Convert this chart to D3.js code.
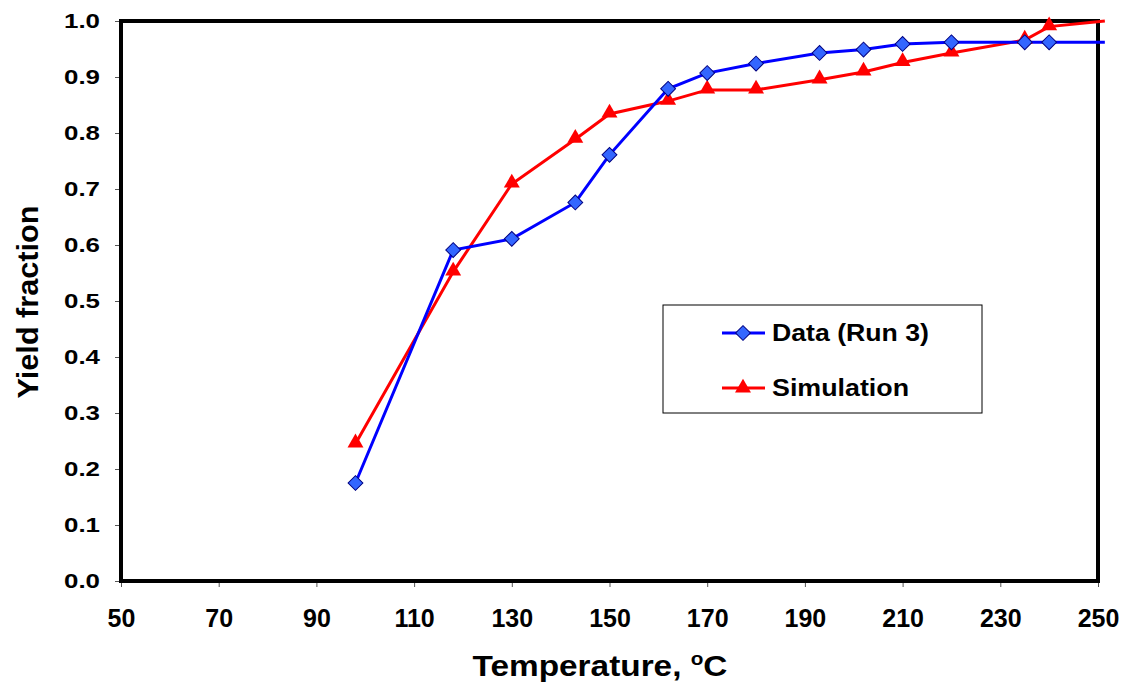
<!DOCTYPE html>
<html>
<head>
<meta charset="utf-8">
<script src="https://cdn.jsdelivr.net/npm/d3@7"></script>
<style>
  body { margin: 0; background: #fff; }
  text { font-family: Arial, "Liberation Sans", sans-serif; font-weight: bold; }
</style>
</head>
<body>
<div id="chart"></div>
<script>
// data
var temps      = [98, 118, 130, 143, 150, 162, 170, 180, 193, 202, 210, 220, 235, 240, 251.4];
var dataRun3   = [0.175, 0.591, 0.611, 0.676, 0.761, 0.879, 0.907, 0.924, 0.943, 0.949, 0.959, 0.962, 0.962, 0.962, 0.962];
var simulation = [0.245, 0.552, 0.709, 0.789, 0.834, 0.857, 0.877, 0.877, 0.895, 0.909, 0.926, 0.943, 0.966, 0.990, 1.0];
var xTicks = [50, 70, 90, 110, 130, 150, 170, 190, 210, 230, 250];
var yTicks = [0, 0.1, 0.2, 0.3, 0.4, 0.5, 0.6, 0.7, 0.8, 0.9, 1.0];
var seriesNames = ["Data (Run 3)", "Simulation"];

// dimensions
var margin = {top: 21, right: 27, bottom: 105, left: 121},
    width = 1125 - margin.left - margin.right,
    height = 686 - margin.top - margin.bottom;

var svg = d3.select("#chart")
    .append("svg")
    .attr("width", 1125)
    .attr("height", 686)
    .append("g")
    .attr("transform", "translate(" + margin.left + "," + margin.top + ")");

var x = d3.scaleLinear().domain([50, 250]).range([0, width]);
var y = d3.scaleLinear().domain([0, 1]).range([height, 0]);

// axes
var xAxis = svg.append("g")
    .attr("transform", "translate(0," + height + ")")
    .call(d3.axisBottom(x).tickValues(xTicks).tickSize(6).tickPadding(22).tickFormat(d3.format("d")));
xAxis.selectAll("text").style("font-size", "25px").attr("fill", "#000");

var yAxis = svg.append("g")
    .call(d3.axisLeft(y).tickValues(yTicks).tickSize(6).tickPadding(15).tickFormat(d3.format(".1f")));
yAxis.selectAll("text").style("font-size", "21px").attr("fill", "#000")
    .attr("textLength", 36).attr("lengthAdjust", "spacingAndGlyphs");

[xAxis, yAxis].forEach(function (a) {
    a.select(".domain").remove();
    a.selectAll(".tick line").attr("stroke", "#555").attr("stroke-width", 1);
});

// plot frame
svg.append("rect")
    .attr("x", 0).attr("y", 0)
    .attr("width", width).attr("height", height)
    .attr("fill", "none")
    .attr("stroke", "#000")
    .attr("stroke-width", 4);

// axis labels
svg.append("text")
    .attr("text-anchor", "middle")
    .attr("x", 600 - margin.left)
    .attr("y", height + 95)
    .style("font-size", "29px")
    .attr("textLength", 255).attr("lengthAdjust", "spacingAndGlyphs")
    .text("Temperature, ")
    .append("tspan").attr("dy", -11).style("font-size", "18px").text("o")
    .select(function () { return this.parentNode; })
    .append("tspan").attr("dy", 11).text("C");

svg.append("text")
    .attr("text-anchor", "middle")
    .attr("transform", "translate(" + (38 - margin.left) + "," + (302 - margin.top) + ") rotate(-90)")
    .style("font-size", "29px")
    .attr("textLength", 193).attr("lengthAdjust", "spacingAndGlyphs")
    .text("Yield fraction");

// lines
var line = d3.line()
    .x(function (d) { return x(d[0]); })
    .y(function (d) { return y(d[1]); });

var blue = temps.map(function (t, i) { return [t, dataRun3[i]]; });
var red = temps.map(function (t, i) { return [t, simulation[i]]; });

svg.append("path").datum(red)
    .attr("fill", "none").attr("stroke", "#ff0000").attr("stroke-width", 3)
    .attr("d", line);
svg.append("path").datum(blue)
    .attr("fill", "none").attr("stroke", "#0000ff").attr("stroke-width", 3)
    .attr("d", line);

var diamond = d3.symbol().type(d3.symbolSquare).size(110);
var triangle = d3.symbol().type(d3.symbolTriangle).size(110);

svg.selectAll(".tri")
    .data(red.filter(function (d) { return d[0] <= 250; }))
    .enter().append("path")
    .attr("class", "tri")
    .attr("transform", function (d) { return "translate(" + x(d[0]) + "," + (y(d[1]) - 1) + ")"; })
    .attr("d", triangle)
    .attr("fill", "#ff0000");

svg.selectAll(".dia")
    .data(blue.filter(function (d) { return d[0] <= 250; }))
    .enter().append("path")
    .attr("class", "dia")
    .attr("transform", function (d) { return "translate(" + x(d[0]) + "," + y(d[1]) + ") rotate(45)"; })
    .attr("d", diamond)
    .attr("fill", "#3366ff")
    .attr("stroke", "#000080")
    .attr("stroke-width", 1);

// legend
var legend = svg.append("g")
    .attr("transform", "translate(" + (663 - margin.left) + "," + (305 - margin.top) + ")");
legend.append("rect")
    .attr("width", 319).attr("height", 108)
    .attr("fill", "#fff").attr("stroke", "#000").attr("stroke-width", 1);

var rows = [
    {name: seriesNames[0], color: "#0000ff", sym: diamond, fill: "#3366ff", rot: 45, stroke: "#000080", dy: 28, len: 157},
    {name: seriesNames[1], color: "#ff0000", sym: triangle, fill: "#ff0000", rot: 0, stroke: "none", dy: 83, len: 137}
];
rows.forEach(function (r) {
    legend.append("line")
        .attr("x1", 59).attr("x2", 102)
        .attr("y1", r.dy).attr("y2", r.dy)
        .attr("stroke", r.color).attr("stroke-width", 3);
    legend.append("path")
        .attr("transform", "translate(80," + r.dy + ") rotate(" + r.rot + ")")
        .attr("d", r.sym)
        .attr("fill", r.fill)
        .attr("stroke", r.stroke);
    legend.append("text")
        .attr("x", 109).attr("y", r.dy + 8)
        .style("font-size", "23px")
        .attr("textLength", r.len).attr("lengthAdjust", "spacingAndGlyphs")
        .text(r.name);
});
</script>
</body>
</html>
